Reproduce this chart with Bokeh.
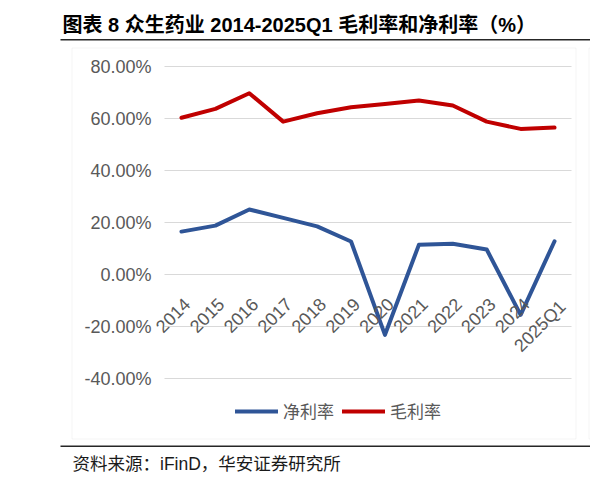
from bokeh.plotting import figure
from bokeh.models import (Range1d, Label, BoxAnnotation, Legend, LegendItem, ColumnDataSource)
from bokeh.core.properties import value
from bokeh.embed import file_html
from bokeh.resources import INLINE
import math

# data (percent)
years = ["2014", "2015", "2016", "2017", "2018", "2019", "2020", "2021",
         "2022", "2023", "2024", "2025Q1"]
gross_margin = [60.3, 63.7, 69.7, 58.8, 62.0, 64.3, 65.6, 66.9, 65.0, 58.8, 56.0, 56.5]
net_margin = [16.5, 18.8, 25.0, 21.8, 18.5, 12.7, -23.2, 11.4, 11.8, 9.6, -15.5, 12.8]
y_ticks = [-40, -20, 0, 20, 40, 60, 80]

title_text = "图表 8 众生药业 2014-2025Q1 毛利率和净利率（%）"
source_text = "资料来源：iFinD，华安证券研究所"

LATIN = "Liberation Sans, Noto Sans CJK SC"
CJK = "Noto Sans CJK SC"
GREY = "#595959"
BLUE = "#2F5597"
RED = "#C00000"

W, H = 590, 485
# plot area in canvas pixels
PL, PR, PT, PB = 164, 571, 66, 378
Y0, Y1 = -40, 80
px_x = (PR - PL) / len(years)
px_y = (PB - PT) / (Y1 - Y0)


def dx(px):
    return (px - PL) / px_x


def dy(py):
    return Y0 + (PB - py) / px_y


p = figure(width=W, height=H, x_range=Range1d(dx(0), dx(W)), y_range=Range1d(dy(H), dy(0)),
           output_backend="svg", toolbar_location=None,
           x_axis_location=None, y_axis_location=None, min_border=0)
p.outline_line_color = None
p.grid.visible = False
p.background_fill_color = "white"
p.border_fill_color = "white"

xpos = [i + 0.5 for i in range(len(years))]
src = ColumnDataSource(dict(x=xpos, year=years, gross=gross_margin, net=net_margin,
                            zero=[0] * len(years)))

# gridlines and y tick labels
p.segment(x0=0, x1=len(years), y0=y_ticks, y1=y_ticks, line_color="#d9d9d9", line_width=1)
p.text(x=[dx(PL - 13)] * len(y_ticks), y=y_ticks, text=[f"{t:.2f}%" for t in y_ticks],
       text_align="right", text_baseline="middle", text_font=value(LATIN),
       text_font_size="18px", text_color=GREY)

r_net = p.line("x", "net", source=src, line_color=BLUE, line_width=4, line_cap="round",
               line_join="round")
r_gross = p.line("x", "gross", source=src, line_color=RED, line_width=4, line_cap="round",
                 line_join="round")

# category labels at the zero line, rotated
p.text(x="x", y="zero", text="year", source=src, angle=math.pi / 4,
       text_align="right", text_baseline="top", x_offset=1, y_offset=22,
       text_font=value(LATIN), text_font_size="18px", text_color=GREY)

legend = Legend(items=[LegendItem(label="净利率", renderers=[r_net]),
                       LegendItem(label="毛利率", renderers=[r_gross])],
                orientation="horizontal", location=(235, H - 423),
                glyph_width=43, glyph_height=20, label_standoff=5, spacing=8,
                padding=0, margin=0, border_line_color=None,
                background_fill_alpha=0, label_text_font=CJK,
                label_text_font_size="17px", label_text_color=GREY)
p.add_layout(legend, "center")


def box(left, right, top, bottom, **kw):
    return BoxAnnotation(left=left, right=right, top=H - top, bottom=H - bottom,
                         left_units="screen", right_units="screen",
                         top_units="screen", bottom_units="screen", **kw)


# chart frame and neighbouring frame edge
p.add_layout(box(71.5, 575.5, 47.5, 438.5, fill_alpha=0, line_color="#d9d9d9", line_width=1))
p.add_layout(box(588.5, 600, 47.5, 438.5, fill_alpha=0, line_color="#d9d9d9", line_width=1))
# rules above and below the chart
p.add_layout(box(60, W, 38.5, 40, fill_color="#262626", fill_alpha=1, line_color=None))
p.add_layout(box(60, W, 445, 446.5, fill_color="#262626", fill_alpha=1, line_color=None))

p.add_layout(Label(x=62, y=H - 24, x_units="screen", y_units="screen",
                   text=title_text, text_font=LATIN, text_font_size="20px",
                   text_font_style="bold", text_color="black",
                   text_align="left", text_baseline="middle"))
p.add_layout(Label(x=72, y=H - 463, x_units="screen", y_units="screen",
                   text=source_text, text_font=LATIN, text_font_size="17.5px",
                   text_color="#1a1a1a", text_align="left", text_baseline="middle"))

open("out.html", "w").write(file_html(p, INLINE))
